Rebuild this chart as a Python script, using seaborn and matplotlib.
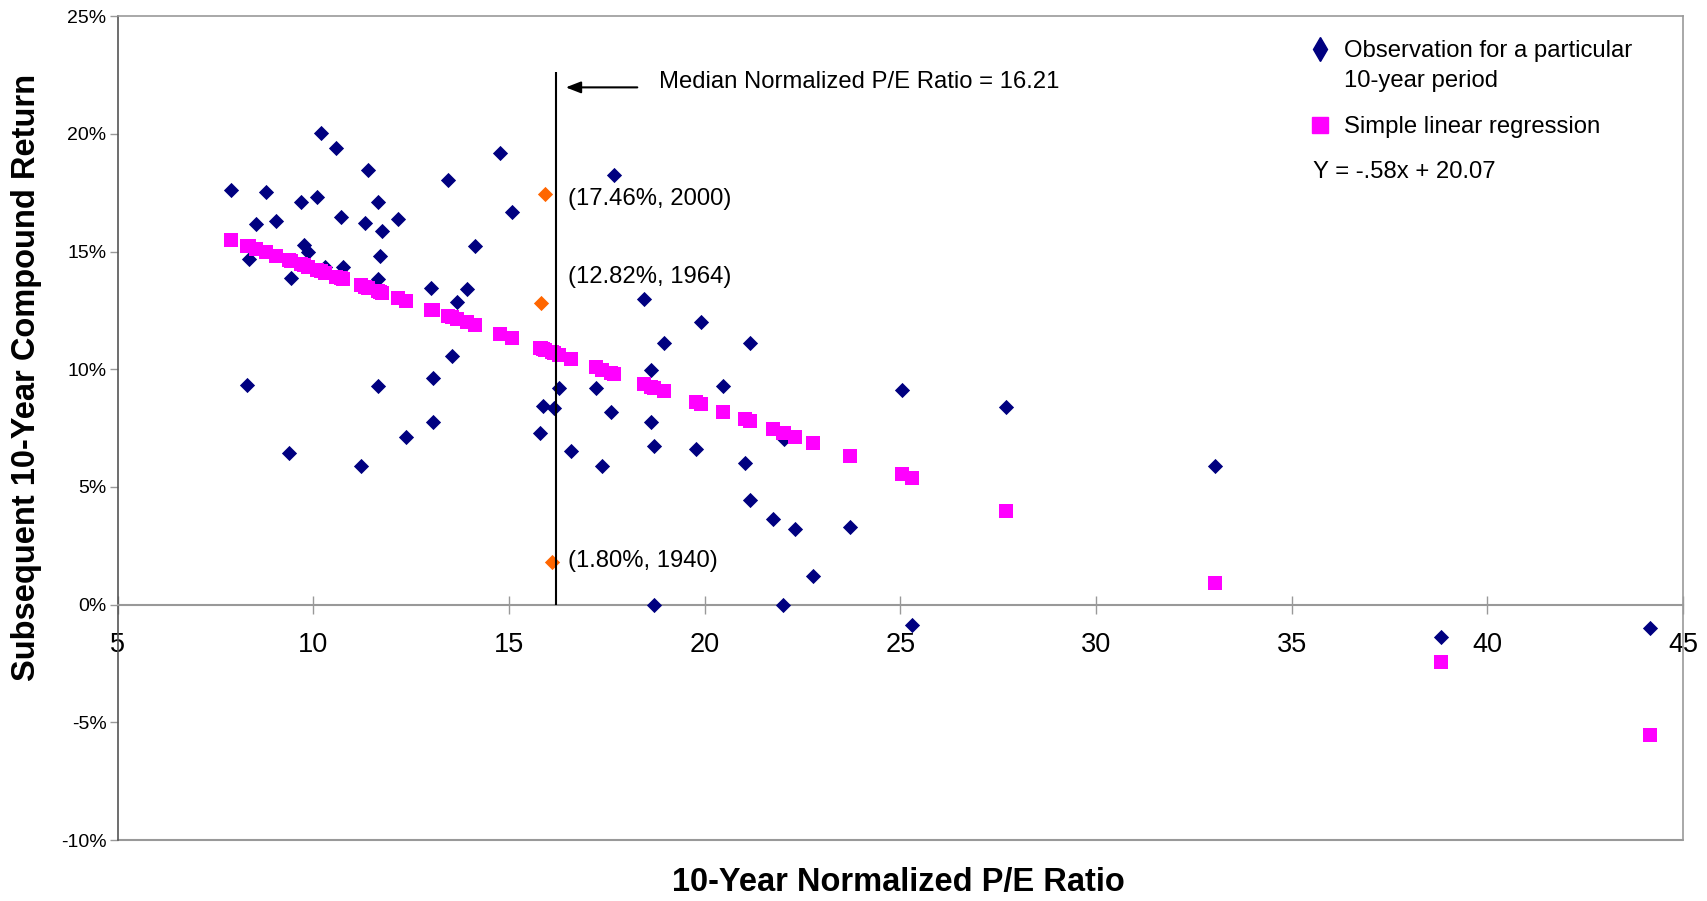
import numpy as np
import pandas as pd
import matplotlib.pyplot as plt
import seaborn as sns
from matplotlib.lines import Line2D
from matplotlib.ticker import FuncFormatter, MultipleLocator

# 10-year normalized P/E and subsequent 10-year return (%)
pe_obs = [7.89, 8.79, 8.54, 9.04, 8.35, 9.68, 10.10, 10.19, 10.57, 10.70,
          11.39, 11.66, 11.33, 11.76, 12.17, 11.71, 9.75, 9.87, 9.43, 10.30,
          10.76, 11.66, 13.00, 13.93, 13.68, 13.44, 14.77, 15.08, 14.12, 13.55,
          8.30, 11.66, 13.05, 13.05, 12.36, 15.78, 15.88, 16.16, 16.29, 17.22,
          9.38, 11.21, 17.68, 18.44, 19.91, 18.95, 21.17, 18.64, 20.47, 25.04,
          27.71, 17.61, 18.64, 16.58, 18.70, 19.77, 22.04, 17.38, 21.04, 21.17,
          21.75, 22.32, 23.71, 22.77, 18.70, 22.00, 25.31, 33.05, 38.82, 44.16]
ret_obs = [17.62, 17.52, 16.17, 16.31, 14.67, 17.09, 17.33, 20.03, 19.39, 16.47,
           18.45, 17.11, 16.20, 15.86, 16.39, 14.81, 15.27, 14.97, 13.87, 14.35,
           14.36, 13.82, 13.47, 13.40, 12.87, 18.03, 19.18, 16.70, 15.24, 10.56,
           9.33, 9.30, 9.64, 7.77, 7.13, 7.28, 8.45, 8.34, 9.19, 9.20,
           6.43, 5.90, 18.27, 12.97, 12.02, 11.10, 11.10, 9.97, 9.30, 9.12,
           8.40, 8.17, 7.77, 6.53, 6.74, 6.62, 7.02, 5.90, 6.00, 4.44,
           3.62, 3.20, 3.31, 1.21, 0.00, 0.00, -0.87, 5.89, -1.39, -0.99]

# highlighted periods
pe_marked = [15.91, 15.83, 16.09]
ret_marked = [17.46, 12.82, 1.80]
marked_labels = ["(17.46%, 2000)", "(12.82%, 1964)", "(1.80%, 1940)"]

# regression points (one per observation)
pe_reg = pe_obs + pe_marked
ret_reg = [15.49, 14.97, 15.12, 14.83, 15.23, 14.46, 14.21, 14.16, 13.94, 13.86,
           13.46, 13.31, 13.50, 13.25, 13.01, 13.28, 14.42, 14.35, 14.60, 14.10,
           13.83, 13.31, 12.53, 11.99, 12.14, 12.27, 11.50, 11.32, 11.88, 12.21,
           15.26, 13.31, 12.50, 12.50, 12.90, 10.92, 10.86, 10.70, 10.62, 10.08,
           14.63, 13.57, 9.82, 9.37, 8.52, 9.08, 7.79, 9.26, 8.20, 5.55,
           4.00, 9.86, 9.26, 10.45, 9.22, 8.60, 7.29, 9.99, 7.87, 7.79,
           7.46, 7.12, 6.32, 6.86, 9.22, 7.31, 5.39, 0.90, -2.45, -5.54,
           10.84, 10.89, 10.74]

median_pe = 16.21

obs = pd.DataFrame({'pe': pe_obs, 'ret': ret_obs})
reg = pd.DataFrame({'pe': pe_reg, 'ret': ret_reg})
marked = pd.DataFrame({'pe': pe_marked, 'ret': ret_marked})

sns.set_style('white')
plt.rcParams['font.family'] = ['Liberation Sans', 'DejaVu Sans']
plt.rcParams['text.color'] = 'black'
plt.rcParams['axes.labelcolor'] = 'black'
plt.rcParams['xtick.labelcolor'] = 'black'
plt.rcParams['ytick.labelcolor'] = 'black'

fig = plt.figure(figsize=(17.08, 9.01), dpi=100)
ax = fig.add_axes([0.0689, 0.0677, 0.9164, 0.9142])

navy = '#000080'
pink = '#FF00FF'
orange = '#FF6600'
grey = '#999999'
fs = 17.2

sns.scatterplot(data=obs, x='pe', y='ret', marker='D', color=navy, s=60,
                linewidth=0, ax=ax, zorder=3)
sns.scatterplot(data=marked, x='pe', y='ret', marker='D', color=orange, s=60,
                linewidth=0, ax=ax, zorder=3)
sns.scatterplot(data=reg, x='pe', y='ret', marker='s', color=pink, s=115,
                linewidth=0, ax=ax, zorder=4)

ax.set_xlim(5, 45)
ax.set_ylim(-10, 25)

# axes styling: x axis sits on the zero line
ax.spines['bottom'].set_position(('data', 0))
ax.spines['bottom'].set_color(grey)
ax.spines['bottom'].set_linewidth(1.5)
ax.spines['top'].set_color(grey)
ax.spines['right'].set_color(grey)
ax.spines['left'].set_color('#555555')
for s in ['top', 'right', 'left']:
    ax.spines[s].set_linewidth(1.2)
ax.axhline(-10, color=grey, lw=1.5, clip_on=False, zorder=1)

ax.xaxis.set_major_locator(MultipleLocator(5))
ax.yaxis.set_major_locator(MultipleLocator(5))
ax.yaxis.set_major_formatter(FuncFormatter(lambda v, p: f'{v:.0f}%'))
ax.tick_params(axis='x', direction='inout', length=13, width=1, color=grey,
               labelcolor='black', labelsize=19.5, pad=13, bottom=True)
ax.tick_params(axis='y', direction='out', length=6, width=1, color=grey,
               labelcolor='black', labelsize=14, pad=2, left=True)

ax.set_xlabel('10-Year Normalized P/E Ratio', fontsize=23.5, fontweight='bold')
ax.set_ylabel('Subsequent 10-Year Compound Return', fontsize=23.5, fontweight='bold')
ax.xaxis.set_label_coords(0.499, -0.051)
ax.xaxis.label.set_va('center')
ax.yaxis.set_label_coords(-0.058, 0.562)
ax.yaxis.label.set_va('center')

# median line with arrow
ax.vlines(median_pe, 0, 22.65, color='black', lw=1.5, zorder=5)
ax.annotate('', xy=(16.38, 21.98), xytext=(18.35, 21.98),
            arrowprops=dict(arrowstyle='-|>,head_length=0.9,head_width=0.35',
                            color='black', lw=1.5))
ax.text(18.83, 22.2, f'Median Normalized P/E Ratio = {median_pe}',
        fontsize=fs, va='center', ha='left')

# labels for highlighted periods
label_y = [17.22, 13.91, 1.84]
for ly, txt in zip(label_y, marked_labels):
    ax.text(16.5, ly, txt, fontsize=fs, va='center', ha='left')

# legend (two pieces so the diamond lines up with the first text line)
h_obs = Line2D([], [], marker='d', color=navy, linestyle='none', markersize=12)
h_reg = Line2D([], [], marker='s', color=pink, linestyle='none', markersize=11)
leg_kw = dict(loc='center left', frameon=False, fontsize=fs, handletextpad=0.5,
              handlelength=1.0, borderaxespad=0, borderpad=0)
leg1 = ax.legend([h_obs], ['Observation for a particular'],
                 bbox_to_anchor=(0.7604, 0.958), **leg_kw)
ax.add_artist(leg1)
ax.legend([h_reg], ['Simple linear regression'],
          bbox_to_anchor=(0.7604, 0.8656), **leg_kw)
ax.text(0.7834, 0.922, '10-year period', transform=ax.transAxes,
        fontsize=fs, va='center', ha='left')
ax.text(0.7636, 0.8113, 'Y = -.58x + 20.07', transform=ax.transAxes,
        fontsize=fs, va='center', ha='left')

fig.savefig('out.png', dpi=100)
